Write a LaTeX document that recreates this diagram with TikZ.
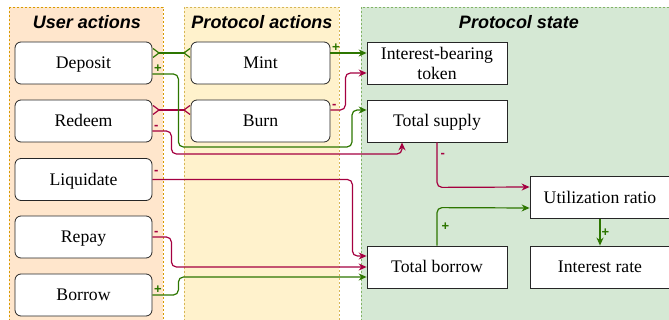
\documentclass[tikz,border=0pt]{standalone}
\usepackage{fontspec}
\setmainfont{Liberation Serif}
\newfontfamily\lanefont{Liberation Sans}
\usetikzlibrary{arrows.meta}
\definecolor{plusgreen}{HTML}{2D7600}
\definecolor{minusred}{HTML}{A50040}
\definecolor{userfill}{HTML}{FFE6CC}
\definecolor{userline}{HTML}{D79B00}
\definecolor{protofill}{HTML}{FFF2CC}
\definecolor{protoline}{HTML}{D6B656}
\definecolor{statefill}{HTML}{D5E8D4}
\definecolor{stateline}{HTML}{82B366}
\tikzset{
  lane/.style={line width=0.6pt, dash pattern=on 2pt off 2pt},
  lanetitle/.style={font=\lanefont\fontsize{18}{20}\selectfont\bfseries\itshape},
  action/.style={draw=black!85, fill=white, rounded corners=6pt, minimum width=137pt,
    minimum height=42pt, line width=0.8pt, text height=11.5pt, text depth=0pt,
    font=\fontsize{17.7}{20}\selectfont},
  statebox/.style={draw=black!85, fill=white, minimum width=140pt, minimum height=42pt,
    line width=0.8pt, align=center, font=\fontsize{17.7}{20}\selectfont},
  oneline/.style={text height=11.5pt, text depth=0pt},
  gline/.style={color=plusgreen, line width=1.2pt, rounded corners=5pt},
  rline/.style={color=minusred, line width=1.2pt, rounded corners=5pt},
  arr/.style={-{Stealth[length=8pt,width=7pt]}},
  crow/.style={{Straight Barb[reversed,length=6pt,width=9pt]}-{Straight Barb[reversed,length=6pt,width=9pt]}},
  sign/.style={inner sep=1pt, font=\lanefont\bfseries\fontsize{13}{13}\selectfont}
}
\begin{document}
\begin{tikzpicture}[x=1pt, y=1pt]
  \clip (0,0) rectangle (669,-320);
  % lanes
  \draw[lane, draw=userline, fill=userfill] (9,-7) rectangle (163,-330);
  \draw[lane, draw=protoline, fill=protofill] (184,-7) rectangle (339,-330);
  \draw[lane, draw=stateline, fill=statefill] (361,-7) rectangle (690,-330);
  \node[lanetitle] (usertitle) at (87,-22) {User actions};
  \node[lanetitle] (prototitle) at (262,-22) {Protocol actions};
  \node[lanetitle] (statetitle) at (519,-22) {Protocol state};

  % user actions
  \node[action] (deposit) at (83.5,-63) {Deposit};
  \node[action] (redeem) at (83.5,-121) {Redeem};
  \node[action] (liquidate) at (83.5,-179.5) {Liquidate};
  \node[action] (repay) at (83.5,-237) {Repay};
  \node[action] (borrow) at (83.5,-295) {Borrow};

  % protocol actions
  \node[action, minimum width=139pt] (mint) at (260.5,-63) {Mint};
  \node[action, minimum width=139pt] (burn) at (260.5,-121) {Burn};

  % protocol state
  \node[statebox] (ibt) at (437,-63) {Interest-bearing\\token};
  \node[statebox, oneline] (supply) at (437,-121) {Total supply};
  \node[statebox, oneline] (totborrow) at (437,-267) {Total borrow};
  \node[statebox, oneline] (util) at (600,-197.5) {Utilization ratio};
  \node[statebox, oneline] (rate) at (600,-267) {Interest rate};

  % user -> protocol
  \draw[gline, crow] ([yshift=10]deposit.east) -- ([yshift=10]mint.west);
  \draw[rline, crow] ([yshift=11]redeem.east) -- ([yshift=11]burn.west);
  \draw[gline, arr] ([yshift=10]mint.east) node[sign, above right] {+} -- ([yshift=10]ibt.west);
  \draw[rline, arr] ([yshift=11]burn.east) node[sign, above right] {-}
    -- ++(15,0) |- ([yshift=-10]ibt.west);
  \draw[gline, arr] ([yshift=-11]deposit.east) node[sign, above right] {+}
    -- ++(26,0) |- (352,-147) |- ([yshift=11]supply.west);
  \draw[rline, arr] ([yshift=-10]redeem.east) node[sign, above right] {-}
    -- ++(19,0) -- ++(0,-23) -| ([xshift=-35]supply.south);
  \draw[rline, arr] (liquidate.east) node[sign, above right, yshift=3] {-}
    -- ++(200,0) |- ([yshift=11]totborrow.west);
  \draw[rline, arr] (repay.east) node[sign, above right] {-}
    -- ++(19,0) |- (totborrow.west);
  \draw[gline, arr] (borrow.east) node[sign, above right] {+}
    -- ++(26,0) |- ([yshift=-10]totborrow.west);

  % state -> state
  \draw[rline, arr] (supply.south) -- ++(0,-45) node[sign, pos=0.3, right, xshift=2] {-}
    -- ([yshift=10.5]util.west);
  \draw[gline, arr] (totborrow.north) -- ++(0,38) node[sign, pos=0.5, right, xshift=3] {+}
    -- ([yshift=-10.5]util.west);
  \draw[gline, arr] (util.south) -- (rate.north) node[sign, midway, right] {+};
\end{tikzpicture}
\end{document}
